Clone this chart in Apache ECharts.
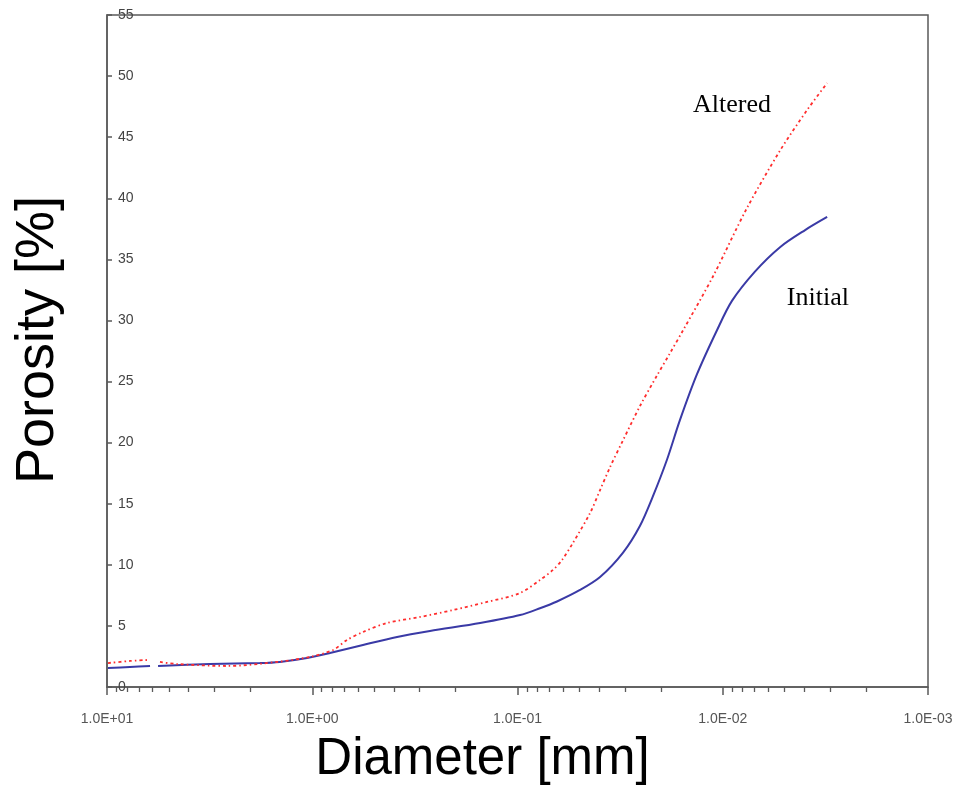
<!DOCTYPE html>
<html>
<head>
<meta charset="utf-8">
<script src="https://cdn.jsdelivr.net/npm/echarts@6/dist/echarts.min.js"></script>
<style>
html,body{margin:0;padding:0;background:#fff;}
#chart{width:956px;height:793px;}
</style>
</head>
<body>
<div id="chart"></div>
<script>
// Diameter [mm] and porosity [%] (null = gap in the curve)
const initialDiameter = [9.89, 7.73, 6.17, 6.0, 5.64, 3.15, 1.80, 1.44, 1.06, 0.820, 0.566, 0.386, 0.267, 0.152, 0.0972, 0.0777, 0.0642, 0.0496, 0.0396, 0.0306, 0.0253, 0.0219, 0.0187, 0.0162, 0.01335, 0.01067, 0.00902, 0.00697, 0.00526, 0.00397, 0.00310];
const initialPorosity = [1.56, 1.64, 1.72, null, 1.72, 1.88, 1.96, 2.05, 2.37, 2.78, 3.44, 4.09, 4.58, 5.24, 5.89, 6.45, 7.0, 7.94, 9.00, 11.0, 13.2, 15.6, 18.6, 21.8, 25.6, 29.2, 31.6, 34.0, 36.0, 37.4, 38.47];

const alteredDiameter = [9.89, 7.73, 6.385, 6.0, 5.519, 4.560, 2.602, 1.485, 1.025, 0.792, 0.677, 0.566, 0.432, 0.2986, 0.2062, 0.1408, 0.0972, 0.0777, 0.0672, 0.0607, 0.0537, 0.0443, 0.0396, 0.0354, 0.0306, 0.0253, 0.0209, 0.0181, 0.0156, 0.01116, 0.00762, 0.00526, 0.00389, 0.00310];
const alteredPorosity = [1.96, 2.13, 2.21, null, 2.05, 1.88, 1.72, 2.05, 2.46, 3.03, 3.85, 4.50, 5.24, 5.73, 6.30, 6.96, 7.69, 8.76, 9.58, 10.39, 11.79, 14.24, 16.12, 18.0, 20.2, 23.0, 25.5, 27.3, 29.2, 33.6, 39.2, 43.9, 47.2, 49.43];

// Axis ticks
const decadeExponents = [-3, -2, -1, 0];
const minorMultipliers = [2, 3, 4, 5, 6, 7, 8, 9];
const xMinExp = -3, xMaxExp = 1;
const yTicks = [0, 5, 10, 15, 20, 25, 30, 35, 40, 45, 50, 55];

// Curve annotations: [diameter, porosity]
const alteredLabelAt = [0.00902, 47.6];
const initialLabelAt = [0.00344, 31.8];

const lg = Math.log10;
function build(ds, ps) {
  return ds.map((d, i) => [lg(d), ps[i] === null ? '-' : ps[i]]);
}
const minorTicks = [];
decadeExponents.forEach(e => minorMultipliers.forEach(m => minorTicks.push(lg(m * Math.pow(10, e)))));

function fmtExp(v) {
  const e = Math.round(v);
  return '1.0E' + (e >= 0 ? '+' : '-') + String(Math.abs(e)).padStart(2, '0');
}

const axisColor = '#5a5a5a';
const chart = echarts.init(document.getElementById('chart'), null, {renderer: 'canvas'});
chart.setOption({
  animation: false,
  backgroundColor: '#ffffff',
  grid: {left: 107, right: 28, top: 15, bottom: 106, show: true, borderColor: axisColor, borderWidth: 1.5, containLabel: false},
  xAxis: [{
    type: 'value',
    min: xMinExp, max: xMaxExp, interval: 1, inverse: true,
    position: 'bottom',
    name: 'Diameter [mm]',
    nameLocation: 'middle',
    nameGap: 47,
    nameTextStyle: {fontFamily: 'Liberation Sans', fontSize: 51, color: '#000', padding: [0, 70, 0, 0]},
    axisLine: {show: true, onZero: false, lineStyle: {color: axisColor, width: 1.5}},
    axisTick: {show: true, inside: false, length: 8, lineStyle: {color: axisColor, width: 1.5}},
    axisLabel: {show: true, margin: 25, fontFamily: 'Liberation Sans', fontSize: 14, color: '#555', formatter: fmtExp},
    splitLine: {show: false}
  }, {
    type: 'value',
    min: xMinExp, max: xMaxExp, inverse: true,
    position: 'bottom',
    axisLine: {show: false, onZero: false},
    axisTick: {show: true, inside: false, length: 5, customValues: minorTicks, lineStyle: {color: axisColor, width: 1.3}},
    axisLabel: {show: false},
    splitLine: {show: false}
  }],
  yAxis: {
    type: 'value',
    min: 0, max: 55, interval: 5,
    name: 'Porosity [%]',
    nameLocation: 'middle',
    nameRotate: 90,
    nameGap: 42,
    nameTextStyle: {fontFamily: 'Liberation Sans', fontSize: 54, color: '#000', padding: [0, 0, 0, 22]},
    axisLine: {show: true, onZero: false, lineStyle: {color: axisColor, width: 1.5}},
    axisTick: {show: true, inside: true, length: 5, lineStyle: {color: axisColor, width: 1.5}},
    axisLabel: {show: true, inside: true, margin: 11, fontFamily: 'Liberation Sans', fontSize: 14, color: '#444',
      customValues: yTicks},
    splitLine: {show: false}
  },
  series: [{
    name: 'Initial',
    type: 'line',
    xAxisIndex: 0,
    data: build(initialDiameter, initialPorosity),
    showSymbol: false,
    smooth: 0.3,
    connectNulls: false,
    lineStyle: {color: '#3a3aa6', width: 2},
    markPoint: {
      symbol: 'circle', symbolSize: 1, itemStyle: {color: 'rgba(0,0,0,0)'},
      label: {show: true, position: 'inside', formatter: 'Initial', fontFamily: 'Liberation Serif', fontSize: 26, color: '#000'},
      data: [{coord: [lg(initialLabelAt[0]), initialLabelAt[1]]}]
    }
  }, {
    name: 'Altered',
    type: 'line',
    xAxisIndex: 0,
    data: build(alteredDiameter, alteredPorosity),
    showSymbol: false,
    smooth: 0.3,
    connectNulls: false,
    lineStyle: {color: '#ff2d2d', width: 1.8, type: [3, 3, 1.5, 3]},
    markPoint: {
      symbol: 'circle', symbolSize: 1, itemStyle: {color: 'rgba(0,0,0,0)'},
      label: {show: true, position: 'inside', formatter: 'Altered', fontFamily: 'Liberation Serif', fontSize: 26, color: '#000'},
      data: [{coord: [lg(alteredLabelAt[0]), alteredLabelAt[1]]}]
    }
  }]
});
</script>
</body>
</html>
